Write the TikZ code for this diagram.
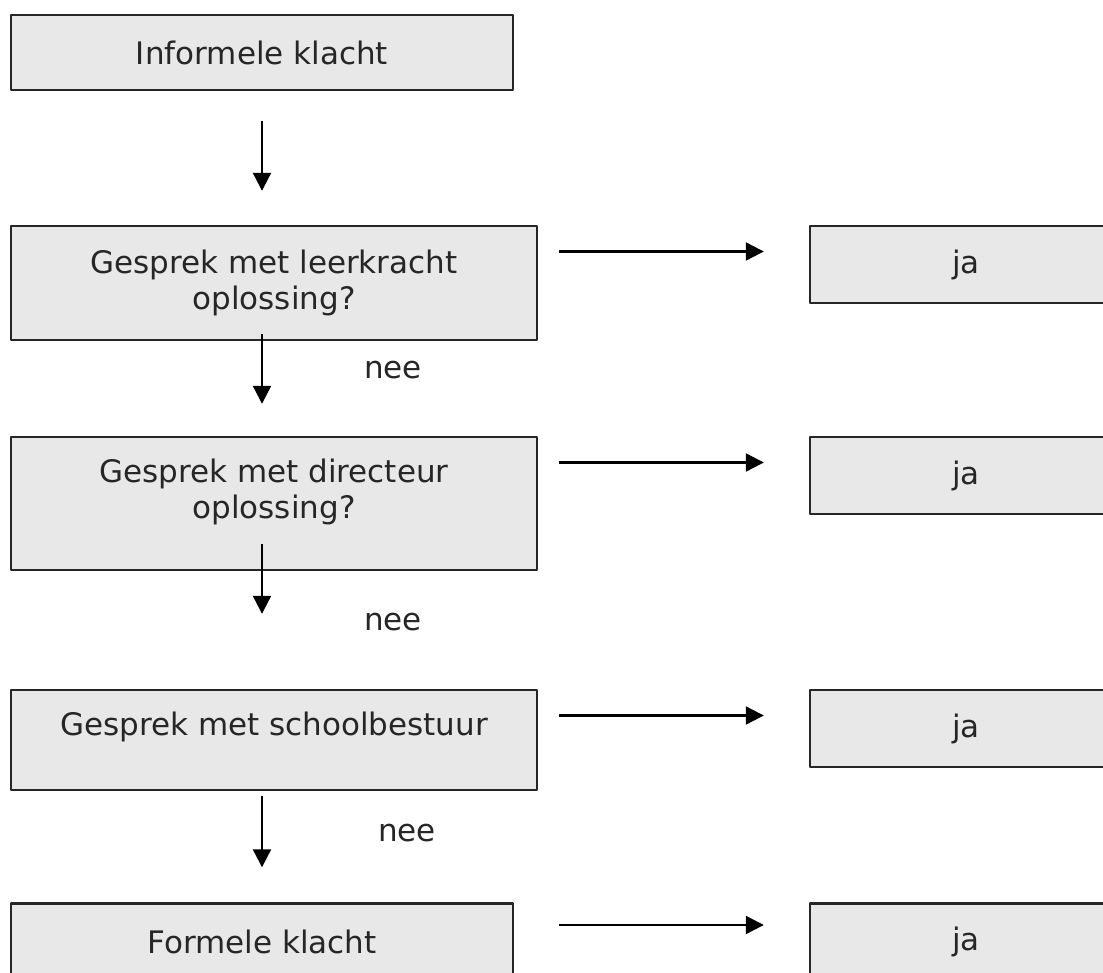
\documentclass[tikz,border=0pt]{standalone}
\usepackage{fontspec}
\setmainfont{DejaVu Sans}
\usetikzlibrary{arrows.meta}
\begin{document}
\begin{tikzpicture}[x=1pt, y=-1pt, line join=round, >={Triangle[length=18pt,width=18pt]},
	box/.style={draw=black!85, line width=2.4pt, fill=black!9, inner sep=0pt, align=center, text=black!85, font=\fontsize{31}{36}\selectfont},
	tekst/.style={text=black!85, font=\fontsize{31}{36}\selectfont}]%Klachtenprocedure
	\useasboundingbox (0,0) rectangle (1103,973);
	\clip (0,0) rectangle (1103,973);
	\node[box, minimum width=502pt, minimum height=75pt] (inf) at (262,52.5) {Informele klacht};
	\node[box, minimum width=526pt, minimum height=114pt] (lk) at (274,283) {Gesprek met leerkracht\\oplossing?};
	\node[box, minimum width=526pt, minimum height=133pt, text depth=29pt] (dir) at (274,503.5) {Gesprek met directeur\\oplossing?};
	\node[box, minimum width=526pt, minimum height=100pt, text depth=33pt] (sb) at (274,740) {Gesprek met schoolbestuur};
	\node[box, minimum width=502pt, minimum height=77pt] (frm) at (262,942) {Formele klacht};
	\foreach \n/\y in {1/264.5,2/475.5,3/728.5,4/942}
	\node[box, minimum width=312pt, minimum height=77pt] (ja\n) at (966,\y) {ja};
	\foreach \a/\b/\s/\t in {inf/lk/-30/34, lk/dir/7/32, dir/sb/27/75, sb/frm/-5/35}
	\draw[->, line width=2.2pt] ([yshift=\s pt]inf.south |- \a.south) -- ([yshift=\t pt]inf.south |- \b.north);
	\foreach \n/\d in {1/13,2/13,3/13,4/17}
	\draw[->, line width=2.2pt] ([shift={(-250pt,\d pt)}]ja\n.west) -- ([shift={(-45pt,\d pt)}]ja\n.west);
	\foreach \n/\p in {1/{(393,370)},2/{(393,622)},3/{(407,833)}}
	\node[tekst] (nee\n) at \p {nee};
\end{tikzpicture}
\end{document}
